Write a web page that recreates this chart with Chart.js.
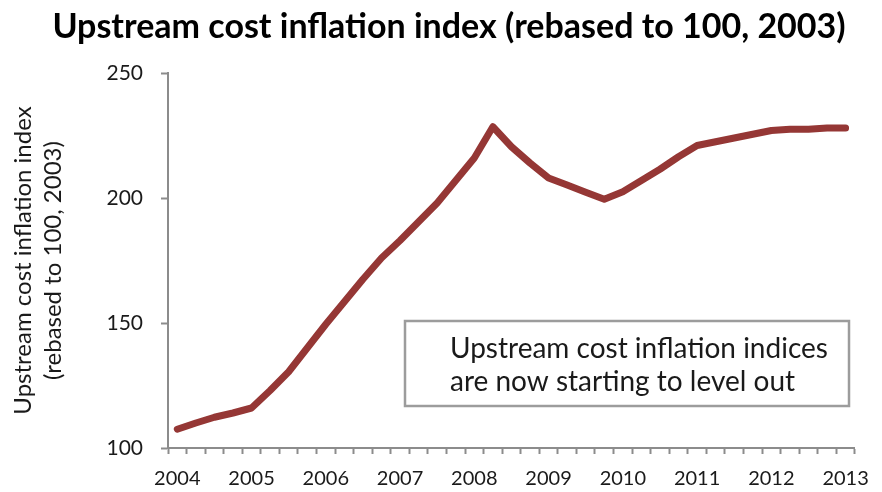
<!DOCTYPE html>
<html>
<head>
<meta charset="utf-8">
<script src="https://cdn.jsdelivr.net/npm/chart.js@4"></script>
<style>
  html, body { margin: 0; padding: 0; background: #fff; }
  #wrap { width: 882px; height: 492px; }
</style>
</head>
<body>
<div id="wrap"><canvas id="chart" width="882" height="492"></canvas></div>
<script>
// ========== Data ==========
const categories = [
  '2004 Q1', '2004 Q2', '2004 Q3', '2004 Q4',
  '2005 Q1', '2005 Q2', '2005 Q3', '2005 Q4',
  '2006 Q1', '2006 Q2', '2006 Q3', '2006 Q4',
  '2007 Q1', '2007 Q2', '2007 Q3', '2007 Q4',
  '2008 Q1', '2008 Q2', '2008 Q3', '2008 Q4',
  '2009 Q1', '2009 Q2', '2009 Q3', '2009 Q4',
  '2010 Q1', '2010 Q2', '2010 Q3', '2010 Q4',
  '2011 Q1', '2011 Q2', '2011 Q3', '2011 Q4',
  '2012 Q1', '2012 Q2', '2012 Q3', '2012 Q4',
  '2013 Q1'
];
const yearLabels = ['2004', '2005', '2006', '2007', '2008', '2009', '2010', '2011', '2012', '2013'];
const indexValues = [
  107.5, 110, 112.3, 114,
  116, 123, 130.5, 140,
  149.5, 158.5, 167.5, 176,
  183, 190.5, 198, 207,
  216, 228.5, 220.5, 214,
  208, 205.2, 202.3, 199.5,
  202.5, 207, 211.5, 216.5,
  221, 222.5, 224, 225.5,
  227, 227.5, 227.5, 228,
  228
];
const yTicks = [100, 150, 200, 250];

const titleText = 'Upstream cost inflation index (rebased to 100, 2003)';
const yTitleLines = ['Upstream cost inflation index', '(rebased to 100, 2003)'];
const noteLines = ['Upstream cost inflation indices', 'are now starting to level out'];

// ========== Styles ==========
const FONT = 'Lato, "Open Sans", sans-serif';
const axisGrey = '#8c8c8c';
const lineRed = '#953735';

// ========== Title + note box ==========
const extras = {
  id: 'extras',
  afterDraw(chart) {
    const ctx = chart.ctx;
    ctx.save();
    // title
    ctx.fillStyle = '#000';
    ctx.font = 'bold 34px ' + FONT;
    ctx.textAlign = 'center';
    ctx.textBaseline = 'middle';
    ctx.fillText(titleText, 449, 27);
    // note box
    ctx.strokeStyle = '#9c9c9c';
    ctx.lineWidth = 2.5;
    ctx.strokeRect(405, 321, 444, 85);
    ctx.fillStyle = '#1a1a1a';
    ctx.font = '28px ' + FONT;
    ctx.textAlign = 'left';
    ctx.fillText(noteLines[0], 450, 349);
    ctx.fillText(noteLines[1], 450, 382);
    ctx.restore();
  }
};

// ========== Chart ==========
new Chart(document.getElementById('chart'), {
  type: 'line',
  data: {
    labels: categories,
    datasets: [{
      data: indexValues,
      borderColor: lineRed,
      borderWidth: 7,
      borderCapStyle: 'round',
      borderJoinStyle: 'round',
      pointRadius: 0,
      tension: 0,
      fill: false
    }]
  },
  options: {
    responsive: false,
    animation: false,
    layout: { padding: { top: 73, right: 15, left: 0, bottom: 0 } },
    plugins: {
      legend: { display: false },
      tooltip: { enabled: false },
      title: { display: false }
    },
    scales: {
      x: {
        type: 'category',
        offset: true,
        grid: {
          offset: true,
          drawOnChartArea: false,
          drawTicks: true,
          tickLength: 6,
          tickWidth: 2,
          tickColor: axisGrey
        },
        border: { color: axisGrey, width: 2 },
        ticks: {
          autoSkip: false,
          maxRotation: 0,
          padding: 13,
          color: '#1a1a1a',
          font: { family: FONT, size: 20 },
          callback: (v, i) => (i % 4 === 0 ? yearLabels[i / 4] : '')
        },
        afterFit: s => { s.height = 44; }
      },
      y: {
        min: 100,
        max: 250,
        afterBuildTicks: s => { s.ticks = yTicks.map(v => ({ value: v })); },
        grid: {
          drawOnChartArea: false,
          drawTicks: true,
          tickLength: 7,
          tickWidth: 2,
          tickColor: axisGrey
        },
        border: { color: axisGrey, width: 2 },
        ticks: {
          padding: 18,
          color: '#1a1a1a',
          font: { family: FONT, size: 21 }
        },
        title: {
          display: true,
          text: yTitleLines,
          color: '#1a1a1a',
          font: { family: FONT, size: 24, lineHeight: 1.25 },
          padding: { top: 8, bottom: 0 }
        },
        afterFit: s => { s.width = 168; }
      }
    }
  },
  plugins: [extras]
});
</script>
</body>
</html>
